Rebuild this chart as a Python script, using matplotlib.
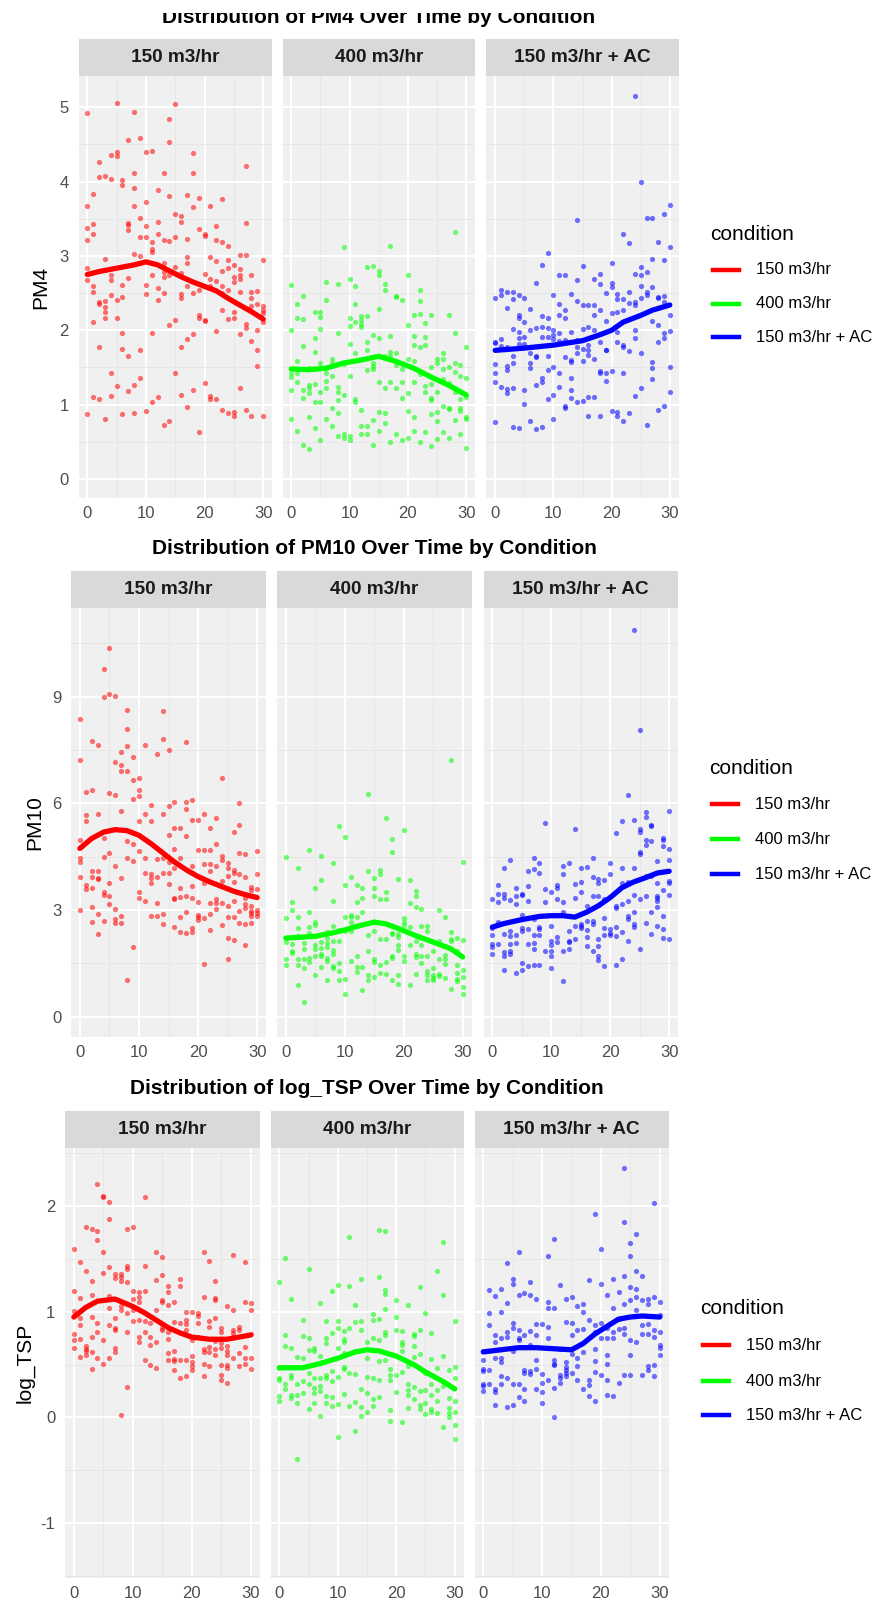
import matplotlib
matplotlib.use("Agg")
import matplotlib.pyplot as plt
from matplotlib.lines import Line2D
from matplotlib.patches import Rectangle

plt.rcParams["font.family"] = ["Liberation Sans", "DejaVu Sans"]
plt.rcParams["axes.unicode_minus"] = False

W, H = 877, 1610

conditions = ["150 m3/hr", "400 m3/hr", "150 m3/hr + AC"]
colors = ["#FF0000", "#00FF00", "#0000FF"]

# Daily readings (day 0..30), one list of samples per day.
pm4_150 = [
    [4.92, 3.67, 3.37, 3.21, 2.84, 2.67, 0.87], [3.83, 3.43, 3.30, 2.59, 2.51, 2.11, 1.10],
    [4.26, 4.06, 2.38, 2.36, 1.78, 1.07], [4.08, 2.96, 2.39, 2.31, 2.24, 2.16, 0.80],
    [4.36, 4.04, 2.74, 2.67, 2.48, 1.42, 1.12], [5.06, 4.40, 4.35, 2.41, 2.16, 1.25],
    [4.02, 3.96, 2.61, 2.45, 1.97, 1.75, 0.88], [4.56, 3.44, 3.42, 3.35, 2.70, 1.65, 1.18],
    [4.93, 4.11, 3.92, 3.67, 3.02, 1.26, 0.89], [4.58, 3.51, 3.25, 3.00, 1.74, 1.36],
    [4.40, 3.73, 3.40, 3.25, 2.61, 2.49, 0.92], [4.41, 3.19, 3.09, 3.05, 2.74, 1.97, 1.03],
    [3.88, 3.45, 3.30, 2.57, 2.41, 1.10], [4.11, 3.22, 2.91, 2.78, 2.72, 2.50, 0.72],
    [4.84, 4.53, 3.80, 3.20, 2.74, 2.07, 0.78], [5.04, 3.57, 3.26, 2.85, 2.14, 1.43],
    [3.54, 3.45, 2.77, 2.49, 2.44, 1.78, 1.13], [3.82, 3.23, 2.98, 2.91, 2.59, 1.88, 0.97],
    [4.38, 4.11, 3.66, 2.50, 1.95, 1.20], [3.78, 3.36, 2.54, 2.20, 2.16, 0.63],
    [3.30, 3.27, 2.76, 2.14, 2.12, 1.29], [3.67, 2.99, 2.69, 2.60, 1.12, 1.08],
    [3.40, 3.22, 2.93, 2.66, 1.99, 1.07], [3.76, 3.19, 2.80, 2.59, 2.50, 2.27, 0.93],
    [3.13, 2.95, 2.84, 2.54, 2.15, 0.89], [2.88, 2.71, 2.65, 2.24, 2.16, 0.90, 0.85],
    [3.01, 2.83, 2.75, 2.69, 2.52, 1.95, 1.22], [4.21, 3.44, 3.01, 2.09, 2.03, 0.93],
    [2.75, 2.52, 2.43, 2.33, 1.85, 0.85], [2.53, 2.35, 2.00, 1.74, 1.52],
    [2.94, 2.32, 2.27, 2.23, 2.11, 0.85],
]
pm4_400 = [
    [2.61, 2.01, 1.42, 1.37, 1.20, 0.81], [2.36, 2.16, 1.58, 1.43, 1.30, 0.65],
    [2.46, 2.15, 1.79, 1.19, 1.09, 0.46], [1.49, 1.26, 1.22, 1.15, 0.84, 0.40],
    [2.24, 1.89, 1.71, 1.28, 1.04, 0.68], [2.24, 2.18, 2.02, 1.56, 1.17, 1.03, 0.52],
    [2.65, 2.41, 1.42, 1.32, 1.22, 0.81], [1.62, 1.56, 1.38, 0.95, 0.71],
    [2.62, 1.97, 1.24, 1.17, 1.06, 0.89, 0.58], [3.12, 1.54, 1.13, 0.61, 0.55],
    [2.69, 2.16, 2.06, 1.81, 1.39, 0.58, 0.52], [2.59, 2.36, 2.11, 1.70, 1.08, 1.04],
    [2.19, 2.14, 2.09, 2.05, 0.93, 0.71, 0.61], [2.85, 2.19, 1.84, 1.74, 1.46, 0.71, 0.61],
    [2.87, 1.93, 1.56, 1.52, 1.48, 0.79, 0.46], [2.80, 2.75, 2.28, 1.89, 1.30, 0.90, 0.64],
    [2.62, 2.54, 1.65, 1.23, 0.89, 0.75], [3.13, 1.92, 1.71, 1.66, 1.30, 0.50],
    [2.46, 2.45, 1.70, 1.53, 1.22, 0.61], [2.41, 1.48, 1.30, 1.09, 0.52],
    [2.75, 2.07, 1.62, 1.15, 0.91, 0.55], [2.20, 1.92, 1.80, 1.58, 1.30, 0.84, 0.65],
    [2.54, 2.39, 2.22, 1.78, 1.41, 0.50], [2.10, 1.91, 1.80, 1.25, 1.17, 0.63],
    [2.20, 1.50, 1.28, 1.09, 1.06, 0.88, 0.44], [1.62, 1.56, 1.17, 0.90, 0.78, 0.54],
    [1.70, 1.62, 1.48, 1.35, 0.98, 0.63], [2.20, 1.50, 1.29, 0.96, 0.94, 0.55],
    [3.32, 1.96, 1.56, 1.44, 1.17, 0.79], [1.53, 1.39, 1.07, 0.96, 0.92, 0.61],
    [1.78, 1.36, 1.10, 0.84, 0.80, 0.42],
]
pm4_ac = [
    [2.44, 1.84, 1.83, 1.54, 1.43, 1.30, 0.76], [2.54, 2.48, 1.88, 1.79, 1.24],
    [2.52, 2.30, 1.77, 1.52, 1.47, 1.21, 1.15], [2.52, 2.42, 2.02, 1.66, 1.56, 1.22, 0.70],
    [2.47, 2.20, 2.17, 1.98, 1.89, 1.81, 0.68], [2.44, 2.11, 1.91, 1.81, 1.20, 1.01],
    [2.28, 2.01, 1.70, 1.56, 1.49, 0.78], [2.63, 2.03, 1.66, 1.64, 1.27, 0.67],
    [2.88, 2.19, 2.05, 1.91, 1.36, 1.30, 0.70], [3.04, 2.17, 2.03, 1.91, 1.65, 1.46, 1.07],
    [2.48, 2.01, 1.93, 1.88, 1.50, 1.13, 0.80], [2.75, 2.36, 2.20, 1.97, 1.86, 1.43, 1.24],
    [2.74, 2.27, 2.16, 1.87, 1.64, 0.98, 0.95], [2.49, 1.98, 1.60, 1.57, 1.36, 1.19, 1.09],
    [3.48, 2.67, 2.40, 1.87, 1.77, 1.69, 1.04], [2.87, 2.34, 2.02, 1.75, 1.59, 1.05],
    [2.34, 2.04, 1.80, 1.74, 1.67, 1.10, 0.85], [2.69, 2.34, 2.20, 2.01, 1.61, 1.10],
    [2.76, 2.62, 2.27, 1.84, 1.45, 1.42, 0.85], [2.50, 2.13, 1.74, 1.73, 1.43, 1.32],
    [2.91, 2.63, 2.58, 2.23, 1.45, 0.91], [2.49, 2.42, 2.25, 1.98, 1.84, 0.90, 0.85],
    [3.30, 2.42, 2.27, 1.80, 1.78, 1.42, 0.78], [3.17, 2.52, 2.37, 1.72, 0.89],
    [5.15, 2.76, 2.38, 2.34, 2.00, 1.89, 1.12], [4.00, 2.85, 2.74, 2.59, 2.43, 1.70, 1.22],
    [3.51, 2.79, 2.52, 2.48, 0.73], [3.51, 2.96, 2.58, 2.13, 1.57, 1.49, 1.35],
    [3.19, 2.45, 2.43, 2.07, 1.84, 0.93], [3.57, 2.94, 2.46, 2.38, 1.96, 1.89, 0.98],
    [3.69, 3.12, 2.20, 1.99, 1.51, 1.17],
]

pm10_150 = [
    [8.37, 7.22, 4.96, 4.46, 4.35, 3.94, 3.01], [6.32, 5.67, 5.49, 3.70, 3.59],
    [7.74, 6.36, 4.10, 3.94, 3.62, 3.09, 2.66], [7.63, 5.69, 4.10, 3.89, 3.87, 2.90, 2.33],
    [9.77, 9.00, 5.03, 4.48, 3.51, 3.42, 2.70], [10.37, 9.06, 6.29, 4.59, 3.76, 3.38, 3.17],
    [9.03, 7.15, 6.24, 4.24, 3.03, 2.75, 2.63], [7.45, 7.08, 6.92, 5.77, 3.89, 2.84, 2.63],
    [8.62, 8.10, 7.60, 6.92, 4.93, 4.46, 1.04], [7.30, 6.65, 6.13, 4.85, 4.37, 1.95],
    [6.70, 6.36, 6.21, 5.50, 4.65, 3.50, 3.34], [7.63, 5.69, 4.45, 4.05, 3.25],
    [5.94, 5.50, 4.02, 3.89, 3.77, 2.82], [7.39, 4.43, 3.93, 3.20, 2.84],
    [8.59, 7.80, 5.71, 4.45, 4.04, 2.90, 2.60], [7.50, 5.91, 5.12, 4.35, 4.03, 3.73],
    [6.05, 5.31, 4.71, 4.18, 3.34, 3.31, 2.52], [5.31, 4.45, 3.62, 3.36, 2.79, 2.38],
    [7.72, 6.05, 5.85, 5.09, 3.39, 2.93, 2.36], [6.10, 5.53, 4.24, 3.67, 3.33, 2.50, 2.39],
    [5.53, 4.68, 3.23, 2.86, 2.79, 2.72], [5.71, 4.68, 4.28, 3.77, 2.77, 1.48],
    [5.31, 4.68, 4.28, 4.10, 3.20, 2.90, 2.44], [5.58, 4.85, 4.24, 3.31, 3.20, 3.02],
    [6.70, 4.52, 4.40, 3.81, 3.20, 2.57], [4.32, 4.19, 3.96, 3.12, 2.81, 2.20, 1.62],
    [5.20, 4.12, 4.04, 3.78, 3.26, 2.81, 2.16], [6.02, 5.40, 4.59, 4.00, 2.98, 2.63],
    [4.57, 3.94, 3.45, 3.34, 3.17, 3.06, 2.60, 2.02], [3.66, 3.55, 3.12, 2.98, 2.91, 2.82, 2.63],
    [4.65, 4.00, 3.59, 3.01, 2.92, 2.82],
]
pm10_400 = [
    [4.48, 2.77, 2.22, 2.09, 1.62, 1.44], [3.23, 3.00, 2.05, 1.86, 1.79],
    [4.18, 2.79, 2.50, 2.27, 1.62, 1.45, 0.90], [2.08, 1.89, 1.61, 1.37, 0.41],
    [4.68, 2.95, 2.52, 2.35, 1.64, 1.53], [3.62, 2.67, 2.58, 2.02, 1.91, 1.71, 1.18],
    [4.51, 3.84, 2.10, 1.93, 1.77, 1.71, 1.40], [2.38, 2.22, 2.08, 1.96, 1.66, 1.57, 1.02],
    [4.31, 3.25, 2.56, 2.13, 1.88, 1.76, 1.43, 1.37], [5.36, 2.44, 2.13, 1.50, 1.29, 1.04],
    [5.04, 3.70, 2.79, 2.40, 1.07, 0.63], [3.94, 2.86, 2.79, 2.67, 2.40, 1.58],
    [3.70, 3.23, 2.81, 2.56, 1.72, 1.40, 1.26], [3.63, 3.35, 2.94, 1.40, 0.74],
    [6.27, 4.10, 2.30, 1.85, 1.16, 1.02], [3.91, 3.63, 3.39, 2.41, 1.63, 1.54, 1.12],
    [4.13, 4.00, 3.31, 2.18, 1.45, 1.24], [5.58, 3.51, 3.31, 2.19, 1.54, 1.20],
    [5.01, 4.62, 2.36, 2.32, 1.71, 1.66, 1.04], [3.86, 2.32, 2.24, 2.02, 1.88, 1.18, 0.93],
    [5.26, 2.77, 2.67, 2.58, 1.71, 1.56], [3.84, 3.21, 2.52, 2.02, 0.90],
    [3.53, 3.39, 3.09, 2.12, 1.76, 1.67, 1.20], [3.03, 2.54, 2.02, 1.70, 1.50],
    [2.54, 2.41, 1.71, 1.28, 1.16, 1.03], [1.85, 1.37, 1.16, 1.09, 1.03],
    [3.00, 2.12, 1.63, 1.20, 1.15], [2.81, 1.99, 1.74, 1.63, 1.48, 1.10],
    [7.22, 2.39, 2.19, 2.12, 0.79], [2.22, 1.84, 1.44, 1.24, 1.05, 1.00],
    [4.35, 2.16, 1.30, 1.12, 0.84, 0.63],
]
pm10_ac = [
    [3.31, 2.49, 2.30, 2.05, 1.96, 1.77], [3.70, 3.45, 3.23, 2.66, 2.05],
    [4.19, 3.45, 3.33, 2.33, 1.82, 1.72, 1.31], [4.40, 3.29, 2.42, 2.28, 2.05, 1.85, 1.75],
    [3.63, 3.40, 3.17, 2.30, 2.08, 1.24], [3.45, 3.42, 2.86, 2.49, 2.42, 1.51, 1.31],
    [4.09, 3.67, 3.26, 2.47, 2.05, 1.43], [4.46, 4.14, 2.75, 2.30, 2.08, 1.91, 1.46],
    [4.31, 4.05, 2.52, 2.47, 2.30, 1.46], [5.45, 3.58, 3.23, 1.84],
    [3.51, 2.56, 2.14, 2.02, 1.84, 1.72, 1.37], [3.70, 3.61, 3.31, 2.86, 2.24, 2.10],
    [4.24, 4.00, 3.23, 2.95, 1.85, 1.00], [4.32, 2.82, 2.42, 2.14, 2.10, 1.91],
    [5.28, 3.73, 3.35, 2.56, 2.19], [4.19, 3.79, 3.51, 2.61, 2.54, 2.50],
    [4.22, 3.12, 2.70, 2.44, 2.24, 2.00], [4.46, 3.94, 3.39, 2.70, 2.61, 1.86],
    [3.87, 3.76, 3.40, 2.19, 1.98, 1.72, 1.59], [3.85, 3.31, 2.77, 2.49, 2.30, 1.43],
    [4.33, 4.01, 2.47, 2.35, 2.30], [5.17, 3.12, 3.06, 2.52, 2.26, 1.46],
    [5.50, 4.18, 3.76, 3.17, 2.38, 1.61], [6.23, 3.79, 3.26, 2.82, 2.75, 2.13],
    [10.86, 5.53, 4.17, 3.42, 2.94, 2.61, 2.52], [8.07, 5.27, 5.20, 4.63, 4.58, 3.31, 1.91],
    [5.75, 5.62, 4.96, 4.82, 3.96, 3.40, 2.63], [5.39, 5.36, 4.93, 3.96, 2.95, 2.33],
    [4.37, 3.76, 3.40, 3.35, 3.26, 3.09, 2.56], [5.02, 4.97, 4.80, 3.57, 2.84, 2.47, 2.22],
    [5.78, 4.71, 4.40, 3.81, 3.76, 3.42, 2.19],
]

log_tsp_150 = [
    [1.59, 1.20, 1.01, 0.79, 0.73, 0.66], [1.47, 1.13, 0.94, 0.87, 0.74, 0.57],
    [1.80, 1.39, 0.68, 0.65, 0.63, 0.59], [1.78, 1.29, 1.16, 0.95, 0.76, 0.62, 0.46],
    [2.21, 1.76, 1.68, 0.89, 0.81, 0.56], [2.10, 2.09, 1.57, 1.37, 0.73, 0.51],
    [2.04, 1.88, 1.42, 1.15, 1.04, 0.87, 0.56], [1.36, 1.32, 0.94, 0.85, 0.83, 0.66, 0.62],
    [1.36, 1.33, 1.29, 1.05, 1.02, 0.02], [1.78, 1.43, 1.40, 1.28, 0.99, 0.81, 0.29],
    [1.80, 1.20, 1.12, 1.02, 0.91], [1.19, 1.14, 1.09, 0.92, 0.76, 0.71],
    [2.09, 1.43, 1.20, 0.91, 0.81, 0.54], [0.89, 0.76, 0.69, 0.50],
    [1.57, 1.30, 1.02, 0.71, 0.47], [1.52, 1.35, 1.11, 1.09, 0.85, 0.83],
    [1.24, 1.19, 1.06, 0.81, 0.74, 0.61, 0.54], [1.09, 0.90, 0.63, 0.55, 0.53, 0.45],
    [1.31, 1.24, 0.89, 0.54, 0.37], [1.00, 0.92, 0.88, 0.83, 0.54, 0.39],
    [1.00, 0.73, 0.58, 0.52, 0.49, 0.45], [0.99, 0.96, 0.89, 0.76],
    [1.57, 1.14, 0.65, 0.62, 0.51, 0.39], [1.48, 0.91, 0.86, 0.67, 0.62, 0.49],
    [1.29, 1.13, 1.11, 0.94, 0.72, 0.65, 0.59], [0.85, 0.81, 0.70, 0.66, 0.50, 0.40, 0.35],
    [1.05, 0.68, 0.63, 0.59, 0.50, 0.47, 0.33], [1.54, 1.02, 0.83, 0.80, 0.76, 0.56],
    [0.86, 0.83, 0.61, 0.49], [1.47, 1.09, 0.67, 0.56, 0.51],
    [1.08, 1.02, 0.79, 0.56, 0.46],
]
log_tsp_400 = [
    [1.28, 0.47, 0.37, 0.35, 0.20, 0.16], [1.51, 0.78, 0.68, 0.32, 0.27],
    [1.12, 0.66, 0.40, 0.37, 0.21, 0.18], [0.57, 0.32, 0.21, 0.14, -0.39],
    [0.92, 0.77, 0.56, 0.34, 0.23], [1.40, 0.75, 0.64, 0.42, 0.32, 0.08],
    [0.66, 0.63, 0.37, 0.28, 0.23, 0.14], [1.08, 0.58, 0.37, 0.30, 0.25, 0.01],
    [0.91, 0.75, 0.70, 0.40, 0.37, 0.20, 0.14], [1.20, 0.80, 0.44, 0.34, 0.19, 0.11],
    [1.25, 0.91, 0.85, 0.66, 0.38, 0.13, -0.19], [0.82, 0.74, 0.71, 0.61, 0.48, 0.46, 0.22],
    [1.71, 1.24, 0.85, 0.42, 0.11], [1.06, 0.90, 0.63, 0.41, 0.15, -0.13],
    [1.31, 0.91, 0.83, 0.27, 0.10, 0.01], [0.71, 0.56, 0.38, 0.23, 0.05],
    [0.98, 0.92, 0.75, 0.37, 0.17, 0.11], [1.77, 1.33, 0.93, 0.73, 0.53, 0.35, 0.19],
    [1.76, 1.21, 1.17, 1.03, 0.81, 0.78, 0.54], [0.46, 0.40, 0.35, 0.07, -0.03],
    [1.11, 0.95, 0.83, 0.40, 0.24], [0.82, 0.71, 0.69, 0.63, 0.43, -0.04],
    [1.06, 0.49, 0.32, 0.26, 0.21, 0.09], [0.79, 0.77, 0.68, 0.57, 0.29, 0.17],
    [1.23, 0.83, 0.60, 0.25, 0.12, 0.08], [0.99, 0.42, 0.26, 0.14, 0.03],
    [0.80, 0.55, 0.32, 0.21, 0.08, 0.05], [1.39, 0.47, 0.26, 0.16, 0.04],
    [1.66, 1.16, 0.58, 0.30, -0.09], [0.45, 0.18, 0.09, 0.04, 0.00],
    [0.91, 0.48, 0.37, 0.16, 0.05, -0.07, -0.20],
]
log_tsp_ac = [
    [0.63, 0.54, 0.46, 0.44, 0.32, 0.30, 0.25], [1.21, 0.99, 0.87, 0.45, 0.32],
    [1.15, 0.78, 0.71, 0.56, 0.27, 0.24, 0.12], [1.22, 1.00, 0.75, 0.56, 0.52, 0.39, 0.32],
    [1.46, 1.08, 0.81, 0.76, 0.37, 0.10], [1.31, 1.26, 0.89, 0.85, 0.63, 0.32, 0.12],
    [1.57, 1.16, 0.83, 0.75, 0.73, 0.32, 0.19], [1.18, 0.78, 0.45, 0.42, 0.27, 0.16],
    [1.28, 1.16, 0.82, 0.69, 0.44, 0.41], [1.12, 0.88, 0.78, 0.54, 0.46, 0.27],
    [0.88, 0.41, 0.33, 0.24, 0.14], [1.53, 1.09, 1.04, 0.86, 0.75, 0.35],
    [1.69, 1.04, 0.54, 0.51, 0.50, 0.28, 0.00], [1.25, 0.65, 0.40, 0.37, 0.33],
    [1.12, 0.90, 0.52, 0.48, 0.45, 0.42, 0.39], [1.14, 0.89, 0.78, 0.60, 0.42],
    [1.05, 0.83, 0.56, 0.49, 0.35], [1.07, 1.00, 0.84, 0.62, 0.27],
    [1.30, 0.92, 0.35, 0.31, 0.20], [1.93, 0.87, 0.81, 0.65, 0.53, 0.43, 0.16],
    [1.59, 1.26, 0.89, 0.75, 0.40], [1.16, 0.85, 0.75, 0.59, 0.51, 0.35, 0.21],
    [1.31, 1.04, 0.81, 0.75, 0.20], [1.19, 0.93, 0.84, 0.33],
    [2.36, 1.85, 1.34, 1.07, 0.85, 0.79, 0.40], [1.65, 1.53, 1.23, 1.11, 0.73, 0.59, 0.40],
    [1.74, 1.39, 1.22, 1.14, 1.02, 0.71], [1.34, 1.11, 0.87, 0.79, 0.40],
    [1.12, 1.07, 0.88, 0.79, 0.49, 0.45], [2.03, 1.14, 0.83, 0.76, 0.50, 0.39],
    [1.09, 0.97, 0.81, 0.69, 0.66, 0.59],
]

# Loess trend per condition: (days, fitted values)
pm4_trend = [
    ([0, 2, 4, 6, 8, 10, 12, 14, 16, 18, 20, 22, 24, 26, 28, 30],
     [2.75, 2.79, 2.82, 2.85, 2.88, 2.92, 2.88, 2.80, 2.72, 2.65, 2.59, 2.53, 2.43, 2.34, 2.25, 2.15]),
    ([0, 3, 6, 9, 12, 15, 18, 21, 24, 27, 30],
     [1.48, 1.47, 1.49, 1.56, 1.60, 1.65, 1.58, 1.49, 1.37, 1.26, 1.13]),
    ([0, 5, 10, 15, 18, 20, 22, 25, 27, 30],
     [1.73, 1.76, 1.80, 1.86, 1.94, 2.00, 2.11, 2.20, 2.27, 2.34]),
]
pm10_trend = [
    ([0, 2, 4, 6, 8, 10, 12, 14, 16, 18, 20, 22, 24, 26, 28, 30],
     [4.73, 5.01, 5.19, 5.26, 5.23, 5.10, 4.87, 4.61, 4.35, 4.13, 3.94, 3.79, 3.66, 3.53, 3.43, 3.35]),
    ([0, 5, 8, 10, 12, 15, 17, 20, 22, 25, 28, 30],
     [2.21, 2.26, 2.36, 2.44, 2.54, 2.66, 2.61, 2.42, 2.28, 2.10, 1.91, 1.68]),
    ([0, 2, 5, 8, 10, 12, 14, 16, 18, 20, 22, 24, 26, 28, 30],
     [2.52, 2.62, 2.73, 2.82, 2.84, 2.84, 2.80, 2.94, 3.12, 3.35, 3.63, 3.79, 3.91, 4.04, 4.09]),
]
log_tsp_trend = [
    ([0, 2, 4, 7, 10, 12, 14, 16, 18, 20, 23, 26, 28, 30],
     [0.95, 1.04, 1.10, 1.12, 1.05, 0.99, 0.92, 0.85, 0.80, 0.76, 0.74, 0.74, 0.76, 0.78]),
    ([0, 4, 7, 10, 13, 15, 17, 20, 23, 25, 28, 30],
     [0.47, 0.47, 0.51, 0.56, 0.62, 0.64, 0.63, 0.58, 0.50, 0.43, 0.34, 0.27]),
    ([0, 3, 6, 9, 12, 15, 17, 19, 21, 23, 25, 27, 30],
     [0.62, 0.64, 0.66, 0.66, 0.65, 0.64, 0.70, 0.79, 0.86, 0.93, 0.95, 0.96, 0.95]),
]

# Layout of each block in pixels: panel boxes, strip/title rows and legend spots.
blocks = [
    dict(name="PM4", series=[pm4_150, pm4_400, pm4_ac], trend=pm4_trend,
         ylim=(-0.256, 5.42), yticks=[0, 1, 2, 3, 4, 5], yminor=[0.5, 1.5, 2.5, 3.5, 4.5],
         top=76, bottom=498, xs=[(78.5, 272), (282.5, 475), (486.5, 678.5)],
         title_y=17.5, ylab_x=41, leg_x=710, leg_title_y=234, leg_ys=[270, 304, 337]),
    dict(name="PM10", series=[pm10_150, pm10_400, pm10_ac], trend=pm10_trend,
         ylim=(-0.57, 11.49), yticks=[0, 3, 6, 9], yminor=[1.5, 4.5, 7.5, 10.5],
         top=608, bottom=1037, xs=[(71, 266), (277, 471.5), (483.5, 678)],
         title_y=549, ylab_x=35, leg_x=709, leg_title_y=768, leg_ys=[804, 839, 874]),
    dict(name="log_TSP", series=[log_tsp_150, log_tsp_400, log_tsp_ac], trend=log_tsp_trend,
         ylim=(-1.52, 2.55), yticks=[-1, 0, 1, 2], yminor=[-1.5, -0.5, 0.5, 1.5, 2.5],
         top=1148, bottom=1578, xs=[(65, 259.5), (270.5, 463.5), (474.5, 668.5)],
         title_y=1088.5, ylab_x=25, leg_x=700, leg_title_y=1309, leg_ys=[1345, 1381, 1415]),
]

STRIP_H = 37
PANEL_BG = "#F0F0F0"
STRIP_BG = "#D9D9D9"


def px_axes(fig, x0, y0, x1, y1):
    return fig.add_axes([x0 / W, 1 - y1 / H, (x1 - x0) / W, (y1 - y0) / H])


def fx(x):
    return x / W


def fy(y):
    return 1 - y / H


fig = plt.figure(figsize=(W / 100, H / 100), dpi=100)

for blk in blocks:
    for i, (x0, x1) in enumerate(blk["xs"]):
        ax = px_axes(fig, x0, blk["top"], x1, blk["bottom"])
        ax.set_facecolor(PANEL_BG)
        for sp in ax.spines.values():
            sp.set_visible(False)
        ax.set_xlim(-1.5, 31.5)
        ax.set_ylim(*blk["ylim"])
        ax.set_xticks([0, 10, 20, 30])
        ax.set_xticks([5, 15, 25], minor=True)
        ax.set_yticks(blk["yticks"])
        ax.set_yticks(blk["yminor"], minor=True)
        ax.grid(which="major", color="white", lw=1.5)
        ax.grid(which="minor", color="#E6E6E6", lw=0.7)
        ax.set_axisbelow(True)
        ax.tick_params(which="both", length=0, labelsize=12, labelcolor="#4D4D4D")
        ax.tick_params(axis="x", pad=6)
        ax.tick_params(axis="y", pad=7)
        if i > 0:
            ax.tick_params(axis="y", labelleft=False)

        xs, ys = [], []
        for day, vals in enumerate(blk["series"][i]):
            xs.extend([day] * len(vals))
            ys.extend(vals)
        ax.scatter(xs, ys, s=14, color=colors[i], alpha=0.55, linewidths=0, zorder=2)
        tx, ty = blk["trend"][i]
        ax.plot(tx, ty, color=colors[i], lw=3.8, solid_capstyle="round",
                solid_joinstyle="round", zorder=3)

        # facet strip
        sax = px_axes(fig, x0, blk["top"] - STRIP_H, x1, blk["top"])
        sax.set_facecolor(STRIP_BG)
        sax.set_xticks([])
        sax.set_yticks([])
        for sp in sax.spines.values():
            sp.set_visible(False)
        sax.text(0.5, 0.5, conditions[i], ha="center", va="center", fontsize=13.7,
                 fontweight="bold", color="#1A1A1A", transform=sax.transAxes)

    left = blk["xs"][0][0]
    right = blk["xs"][-1][1]
    fig.text(fx((left + right) / 2), fy(blk["title_y"]),
             f"Distribution of {blk['name']} Over Time by Condition",
             ha="center", va="center", fontsize=15, fontweight="bold", color="black")
    fig.text(fx(blk["ylab_x"]), fy((blk["top"] + blk["bottom"]) / 2), blk["name"],
             rotation=90, ha="center", va="center", fontsize=15, color="black")

    # legend
    lx = blk["leg_x"]
    fig.text(fx(lx), fy(blk["leg_title_y"]), "condition", ha="left", va="center",
             fontsize=15, color="black")
    for c, lab, ly in zip(colors, conditions, blk["leg_ys"]):
        fig.add_artist(Line2D([fx(lx + 3), fx(lx + 29)], [fy(ly), fy(ly)],
                              transform=fig.transFigure, color=c, lw=3.2))
        fig.text(fx(lx + 46), fy(ly), lab, ha="left", va="center", fontsize=12,
                 color="black")

# blank band along the top edge
fig.add_artist(Rectangle((0, fy(13)), 1, 13 / H, transform=fig.transFigure,
                         facecolor="white", edgecolor="none", zorder=10))

fig.savefig("out.png", dpi=100)
